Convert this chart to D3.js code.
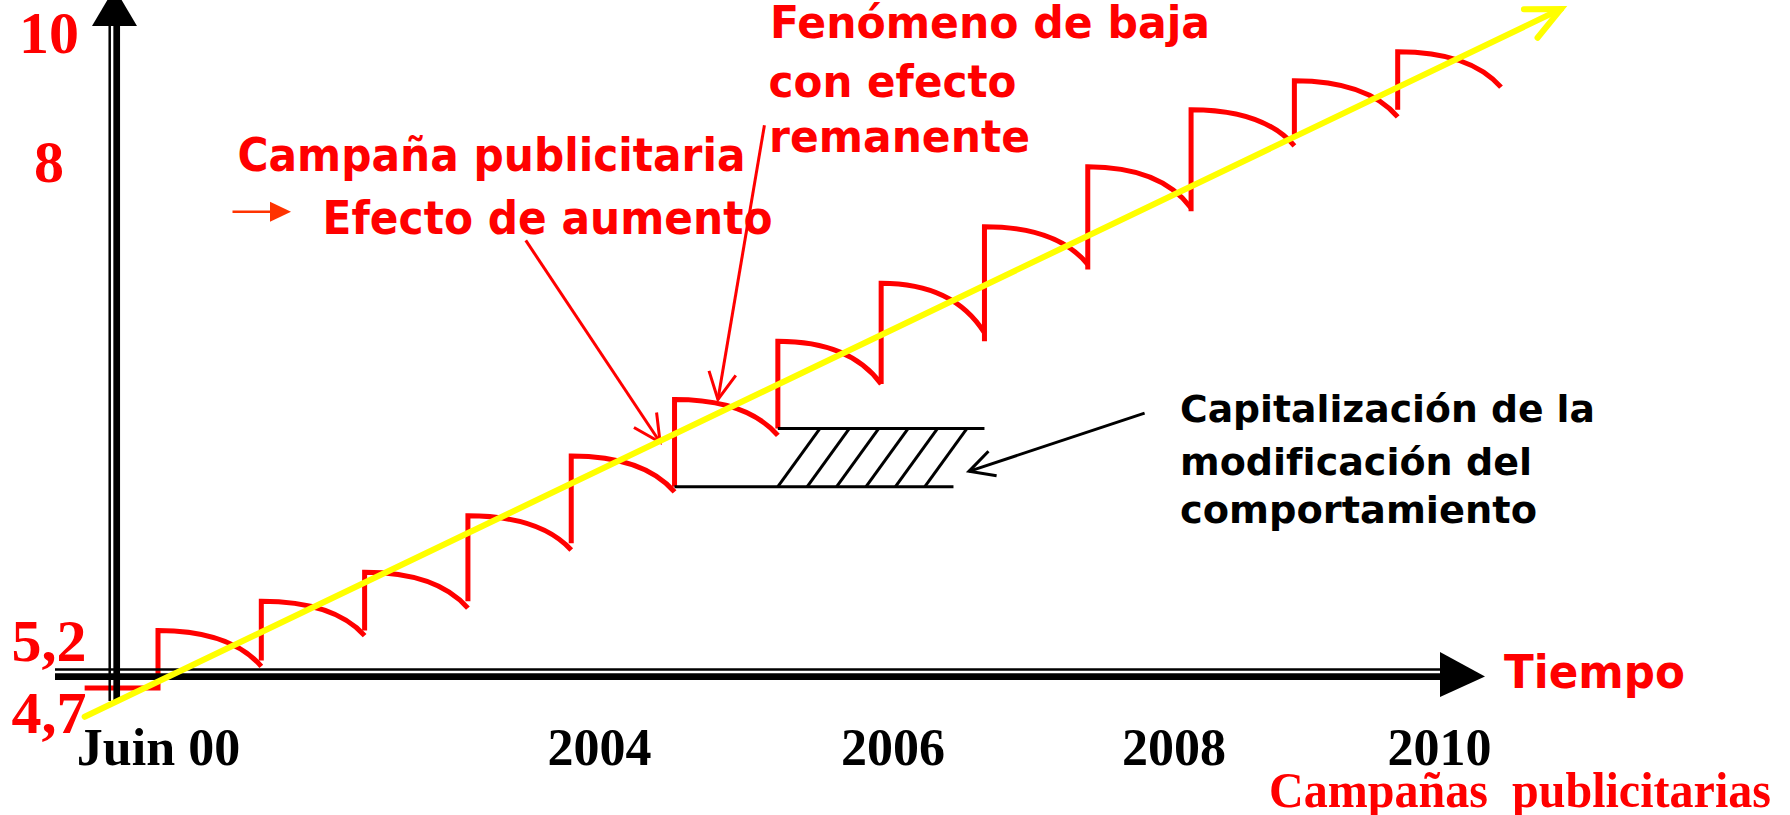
<!DOCTYPE html>
<html lang="es">

<head>
    <meta charset="UTF-8">
    <title>Campañas publicitarias - efecto de aumento</title>
    <script src="https://cdn.jsdelivr.net/npm/d3@7"></script>
    <style>
        body {
            margin: 0;
            background: #fff;
        }

        svg {
            display: block;
        }

        text {
            white-space: pre;
        }

        .sans {
            font-family: "DejaVu Sans", Verdana, sans-serif;
            font-weight: bold;
        }

        .serif {
            font-family: "Liberation Serif", "Times New Roman", serif;
            font-weight: bold;
        }
    </style>
</head>

<body>
    <svg width="1790" height="815"></svg>

    <script>
        // x = campaign number (one period per campaign), y = level
        const campaignIdx = [0, 1, 2, 3, 4, 5, 6, 7, 8, 9, 10, 11, 12];
        const startLevel = [4.86, 5.05, 5.25, 5.42, 5.76, 6.09, 6.43, 6.69, 6.94, 7.36, 7.70, 8.39, 8.78];
        const peakLevel = [5.25, 5.42, 5.59, 5.92, 6.27, 6.60, 6.94, 7.28, 7.61, 7.96, 8.78, 9.23, 9.68];
        const endLevel = [5.01, 5.22, 5.38, 5.72, 6.06, 6.39, 6.69, 6.99, 7.39, 7.72, 8.22, 8.67, 9.13];
        const leadInX = -0.71;

        // yellow trend
        const trendX = [-0.71, 13.58];
        const trendY = [4.66, 10.34];

        // axis labels
        const yTicks = [4.7, 5.2, 8, 10];
        const yTickLabels = ["4,7", "5,2", "8", "10"];
        const xTicks = [0, 4.27, 7.11, 9.83, 12.4];
        const xTickLabels = ["Juin 00", "2004", "2006", "2008", "2010"];

        // annotation arrows [tail, tip] in data units
        const arrowAumento = [[3.56, 7.53], [4.86, 6.35]];
        const arrowBaja = [[5.87, 8.54], [5.42, 6.60]];
        const arrowCapital = [[9.55, 6.52], [7.85, 6.18]];
        // capitalisation box: campaigns 6 and 7 base levels
        const capBottom = [5, 7.7];
        const capTop = [6, 8];

        const svg = d3.select("svg");
        const red = "#ff0000";

        const x = d3.scaleLinear().domain([0, 13]).range([158, 1501]);
        // schematic axis: piecewise between the labelled levels
        const y = d3.scaleLinear().domain([4.7, 5.2, 8, 10]).range([711, 639, 160, 31]);

        const line = d3.line();

        function arrowHead(tail, tip, len, half) {
            const a = Math.atan2(tail[1] - tip[1], tail[0] - tip[0]);
            return [
                [tip[0] + len * Math.cos(a - half), tip[1] + len * Math.sin(a - half)],
                tip,
                [tip[0] + len * Math.cos(a + half), tip[1] + len * Math.sin(a + half)]
            ];
        }

        // red sawtooth
        const saw = svg.append("g")
            .attr("fill", "none")
            .attr("stroke", red)
            .attr("stroke-width", 5);

        campaignIdx.forEach((c, i) => {
            const x0 = x(c), x1 = x(c + 1);
            const p = d3.path();
            if (i === 0) {
                p.moveTo(x(leadInX), y(startLevel[0]));
                p.lineTo(x0, y(startLevel[0]));
            } else {
                p.moveTo(x0, y(startLevel[i]));
            }
            p.lineTo(x0, y(peakLevel[i]));
            p.quadraticCurveTo(x0 + 0.7 * (x1 - x0), y(peakLevel[i]), x1, y(endLevel[i]));
            saw.append("path").attr("d", p.toString());
        });

        // axes (double line + arrow)
        const axes = svg.append("g").attr("stroke", "#000");
        axes.append("line").attr("x1", 55).attr("x2", 1442).attr("y1", 669.5).attr("y2", 669.5).attr("stroke-width", 2.5);
        axes.append("line").attr("x1", 55).attr("x2", 1442).attr("y1", 676.7).attr("y2", 676.7).attr("stroke-width", 6.7);
        axes.append("path").attr("d", "M1440,652L1485,676.5L1440,697Z").attr("stroke", "none").attr("fill", "#000");

        axes.append("line").attr("x1", 109.7).attr("x2", 109.7).attr("y1", 24).attr("y2", 701).attr("stroke-width", 2.5);
        axes.append("line").attr("x1", 116.7).attr("x2", 116.7).attr("y1", 24).attr("y2", 702).attr("stroke-width", 6.7);
        axes.append("path").attr("d", "M92,26L114.5,-12L137,26Z").attr("stroke", "none").attr("fill", "#000");

        // capitalisation box with hatching
        const cap = svg.append("g").attr("stroke", "#000").attr("stroke-width", 3).attr("fill", "none");
        const yb = y(startLevel[5]), yt = y(startLevel[6]);
        cap.append("path").attr("d", line([[x(capTop[0]), yt], [x(capTop[1]), yt]]));
        cap.append("path").attr("d", line([[x(capBottom[0]), yb], [x(capBottom[1]), yb]]));
        for (let k = 0; k < 6; k++) {
            const bx = x(capTop[0]) + k * 29.4;
            cap.append("path").attr("d", line([[bx, yb], [bx + 42, yt]]));
        }

        // black arrow to box
        const capTail = [x(arrowCapital[0][0]), y(arrowCapital[0][1])];
        const capTip = [x(arrowCapital[1][0]), y(arrowCapital[1][1])];
        cap.append("path").attr("d", line([capTail, capTip]));
        cap.append("path").attr("d", line(arrowHead(capTail, capTip, 28, 0.48)));

        // red annotation arrows
        const notes = svg.append("g").attr("stroke", red).attr("stroke-width", 3).attr("fill", "none");
        [arrowAumento, arrowBaja].forEach(a => {
            const tail = [x(a[0][0]), y(a[0][1])];
            const tip = [x(a[1][0]), y(a[1][1])];
            notes.append("path").attr("d", line([tail, tip]));
            notes.append("path").attr("d", line(arrowHead(tail, tip, 30, 0.47)));
        });

        // yellow trend with arrow
        const tStart = [x(trendX[0]), y(trendY[0])];
        const tEnd = [x(trendX[1]), y(trendY[1])];
        const trend = svg.append("g")
            .attr("stroke", "#ffff00")
            .attr("stroke-width", 6)
            .attr("fill", "none")
            .attr("stroke-linecap", "round");
        trend.append("path").attr("d", line([tStart, tEnd]));
        trend.append("path").attr("d", line(arrowHead(tStart, tEnd, 37, 0.44)));

        // tick labels through d3 axes
        const gx = svg.append("g")
            .attr("transform", "translate(0,765)")
            .call(d3.axisBottom(x).tickValues(xTicks).tickFormat((d, i) => xTickLabels[i]).tickSize(0));
        gx.select(".domain").remove();
        gx.attr("font-family", null).attr("font-size", 52).attr("class", "serif");
        gx.selectAll("text").attr("y", 0).attr("dy", null).attr("fill", "#000");

        const gy = svg.append("g")
            .attr("transform", "translate(49,0)")
            .call(d3.axisLeft(y).tickValues(yTicks).tickFormat((d, i) => yTickLabels[i]).tickSize(0).tickPadding(0));
        gy.select(".domain").remove();
        gy.attr("font-family", null).attr("font-size", 60).attr("class", "serif");
        gy.selectAll("text").attr("x", 0).attr("dy", "0.35em").attr("text-anchor", "middle").attr("fill", red);

        // text annotations
        function label(txt, px, py, size, width, color, cls) {
            svg.append("text")
                .attr("class", cls || "sans")
                .attr("x", px).attr("y", py)
                .attr("font-size", size)
                .attr("fill", color || red)
                .attr("textLength", width)
                .attr("lengthAdjust", "spacingAndGlyphs")
                .text(txt);
        }

        label("Campaña publicitaria", 237.5, 171, 46, 508);
        label("Efecto de aumento", 322.5, 234, 46, 450);
        label("Fenómeno de baja", 770, 38, 45, 440);
        label("con efecto", 768.5, 97, 45, 248);
        label("remanente", 769, 152, 45, 261);
        label("Tiempo", 1504, 688, 46, 181);
        label("Capitalización de la", 1180, 422, 38, 415, "#000");
        label("modificación del", 1180, 475, 38, 352, "#000");
        label("comportamiento", 1180, 523, 38, 357, "#000");
        label("Campañas  publicitarias", 1269, 807, 50, 502, red, "serif");

        // small orange arrow before "Efecto de aumento"
        svg.append("line")
            .attr("x1", 232.5).attr("x2", 272).attr("y1", 211.7).attr("y2", 211.7)
            .attr("stroke", "#ff3300").attr("stroke-width", 2.5);
        svg.append("path")
            .attr("d", "M270,201.7L291,211.7L270,221.7Z")
            .attr("fill", "#ff3300");
    </script>
</body>

</html>
